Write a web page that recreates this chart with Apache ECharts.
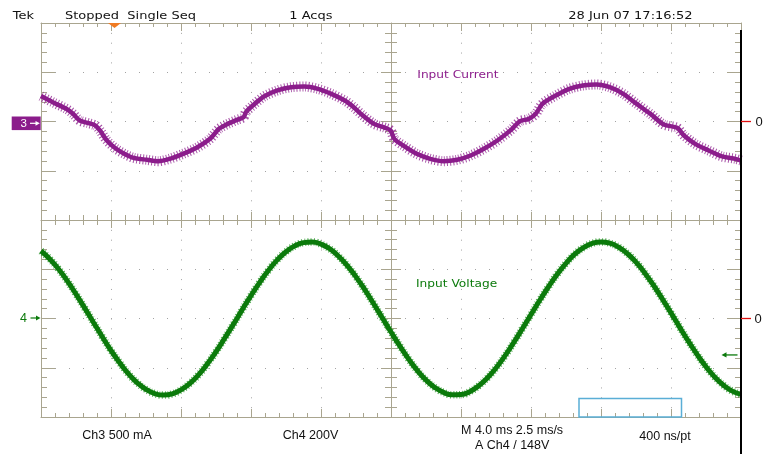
<!DOCTYPE html>
<html>
<head>
<meta charset="utf-8">
<script src="https://cdn.jsdelivr.net/npm/echarts@6/dist/echarts.min.js"></script>
<style>html,body{margin:0;padding:0;background:#fff}#c{width:767px;height:454px}</style>
</head>
<body>
<div id="c"></div>
<script>
// ---- data ----
// Ch3: input current (mA) vs time (ms)
const currentTime = [0,0.67,1.44,1.83,2.21,2.73,3.11,3.37,3.75,4.27,4.78,5.29,6.06,6.7,7.35,8.12,8.89,9.66,10.17,10.68,11.2,11.58,11.71,12.1,12.74,13.51,14.28,15.05,15.82,16.59,17.36,17.87,18.39,19.03,19.67,19.98,20.19,20.7,21.47,22.24,23.01,23.78,24.55,25.31,26.08,26.86,27.37,27.88,28.27,28.65,29.42,30.19,30.96,31.74,32.5,33.27,34.04,34.82,35.58,36.35,36.74,37.38,38.15,38.92,39.69,40];
const currentValues = [258,196,129,78,10,-17,-41,-91,-190,-275,-330,-369,-389,-403,-379,-328,-267,-176,-74,-24,17,44,95,162,254,315,348,355,332,281,213,145,61,-24,-64,-91,-176,-244,-328,-379,-403,-389,-345,-277,-193,-85,3,27,78,179,264,332,365,376,348,281,179,78,-30,-64,-142,-227,-294,-355,-379,-396];
// Ch4: input voltage (V) vs time (ms)
const voltageTime = [0,0.5,1,1.5,2,2.5,3,3.5,4,4.5,5,5.5,6,6.5,7,7.5,8,8.5,9,9.5,10,10.5,11,11.5,12,12.5,13,13.5,14,14.5,15,15.5,16,16.5,17,17.5,18,18.5,19,19.5,20,20.5,21,21.5,22,22.5,23,23.5,24,24.5,25,25.5,26,26.5,27,27.5,28,28.5,29,29.5,30,30.5,31,31.5,32,32.5,33,33.5,34,34.5,35,35.5,36,36.5,37,37.5,38,38.5,39,39.5,40];
const voltageValues = [274,242,201,153,99,42,-16,-74,-130,-180,-225,-261,-288,-305,-311,-306,-290,-264,-229,-185,-135,-80,-23,36,93,147,196,238,271,295,308,311,302,283,253,215,169,117,61,3,-55,-111,-164,-211,-250,-280,-300,-310,-309,-297,-274,-242,-201,-153,-99,-42,16,74,129,180,224,261,288,305,311,306,290,264,229,185,135,80,23,-36,-93,-147,-196,-238,-271,-295,-308];

const headerTexts = ['Tek', 'Stopped  Single Seq', '1 Acqs', '28 Jun 07 17:16:52'];
const footerTexts = ['Ch3 500 mA', 'Ch4 200V', 'M 4.0 ms 2.5 ms/s', 'A Ch4 / 148V', '400 ns/pt'];
const traceLabels = ['Input Current', 'Input Voltage'];
const channelLabels = ['3', '4'];
const zeroLabel = '0';

const timeAxis = {min: 0, max: 40, interval: 4};
const currentAxis = {min: -3000, max: 1000, interval: 500};
const voltageAxis = {min: -400, max: 1200, interval: 200};
const divAxisX = {min: -5, max: 5, interval: 1};
const divAxisY = {min: -4, max: 4, interval: 1};
const triggerLevel = -148;
const triggerTime = 4.2;

// ---- styles ----
const GR = '#a9a58f';
const DOT = '#a3a3a3';
const PURPLE = '#8b1c8b';
const GREEN = '#0b7a0b';

function tick(len, inside) { return {show: true, inside: inside, length: len, lineStyle: {color: GR, width: 1}}; }
function minor(len) { return {show: true, splitNumber: 5, length: len, lineStyle: {color: GR, width: 1}}; }
function line(show) { return {show: show, onZero: false, lineStyle: {color: GR, width: 1}}; }
const noLabel = {show: false};

function zip(a, b) { return a.map((v, i) => [v, b[i]]); }
const currentData = zip(currentTime, currentValues);
const voltageData = zip(voltageTime, voltageValues);

const option = {
  backgroundColor: '#ffffff',
  animation: false,
  grid: {left: 41, top: 23, width: 700, height: 394, containLabel: false, outerBoundsMode: 'none'},
  xAxis: [
    Object.assign({type: 'value', position: 'bottom', axisLine: line(true), axisTick: tick(8, true), minorTick: minor(4), axisLabel: noLabel,
      splitLine: {show: true, lineStyle: {color: DOT, width: 1, type: [1, 8.85]}}}, timeAxis),
    Object.assign({type: 'value', position: 'top', axisLine: line(true), axisTick: tick(8, true), minorTick: minor(4), axisLabel: noLabel, splitLine: {show: false}}, timeAxis),
    Object.assign({type: 'value', position: 'bottom', offset: -197, axisLine: line(true), axisTick: tick(8, false), minorTick: minor(5), axisLabel: noLabel, splitLine: {show: false}}, divAxisX),
    Object.assign({type: 'value', position: 'bottom', offset: -197, axisLine: line(false), axisTick: tick(8, true), minorTick: minor(5), axisLabel: noLabel, splitLine: {show: false}}, divAxisX)
  ],
  yAxis: [
    Object.assign({type: 'value', position: 'left', axisLine: line(true), axisTick: tick(14, true), minorTick: minor(6), axisLabel: noLabel,
      splitLine: {show: true, lineStyle: {color: DOT, width: 1, type: [1, 13]}}}, currentAxis),
    Object.assign({type: 'value', position: 'right', axisLine: line(true), axisTick: tick(14, true), minorTick: minor(6), axisLabel: noLabel, splitLine: {show: false}}, voltageAxis),
    Object.assign({type: 'value', position: 'left', offset: -350, axisLine: line(true), axisTick: tick(10, false), minorTick: minor(6), axisLabel: noLabel, splitLine: {show: false}}, divAxisY),
    Object.assign({type: 'value', position: 'left', offset: -350, axisLine: line(false), axisTick: tick(10, true), minorTick: minor(6), axisLabel: noLabel, splitLine: {show: false}}, divAxisY)
  ],
  series: [
    // fuzzy noise envelope of the acquisition (same data, striped wide stroke)
    {name: traceLabels[0] + ' envelope', type: 'line', xAxisIndex: 0, yAxisIndex: 0, data: currentData, silent: true,
      showSymbol: false, smooth: 0.3, lineStyle: {color: PURPLE, width: 10, type: [1, 2], opacity: 0.75}, z: 4},
    {name: traceLabels[0], type: 'line', xAxisIndex: 0, yAxisIndex: 0, data: currentData,
      showSymbol: false, smooth: 0.3, lineStyle: {color: PURPLE, width: 4.5}, z: 5},
    {name: traceLabels[1] + ' envelope', type: 'line', xAxisIndex: 0, yAxisIndex: 1, data: voltageData, silent: true,
      showSymbol: false, smooth: true, lineStyle: {color: '#2f9a2f', width: 7.5, type: [1, 2], opacity: 0.8}, z: 4},
    {name: traceLabels[1], type: 'line', xAxisIndex: 0, yAxisIndex: 1, data: voltageData,
      showSymbol: false, smooth: true, lineStyle: {color: GREEN, width: 5}, z: 5}
  ]
};

const chart = echarts.init(document.getElementById('c'), null, {renderer: 'canvas'});
chart.setOption(option);

const px = v => chart.convertToPixel({xAxisIndex: 0}, v);
const pyI = v => chart.convertToPixel({yAxisIndex: 0}, v);
const pyV = v => chart.convertToPixel({yAxisIndex: 1}, v);

const xL = px(timeAxis.min), xR = px(timeAxis.max);
const yT = pyI(currentAxis.max), yB = pyI(currentAxis.min);
const y3 = pyI(0), y4 = pyV(0);
const yTrig = pyV(triggerLevel), xTrig = px(triggerTime);

function txt(text, x, y, font, fill, sy) {
  return {type: 'text', x: x, y: y, scaleY: sy || 1, z: 30, silent: true,
    style: {text: text, font: font, fill: fill, textAlign: 'left', textVerticalAlign: 'middle'}};
}
const HF = '13px "DejaVu Sans"';
const FF = '12.5px "Liberation Sans"';

const graphic = [
  // header
  txt(headerTexts[0], 12.7, 15.9, HF, '#111', 0.78),
  txt(headerTexts[1], 65, 15.9, HF, '#111', 0.78),
  txt(headerTexts[2], 289.3, 15.9, HF, '#111', 0.78),
  txt(headerTexts[3], 568.3, 15.9, HF, '#111', 0.78),
  // trace labels
  txt(traceLabels[0], 417.3, 75.7, '12.2px "DejaVu Sans"', PURPLE, 0.82),
  txt(traceLabels[1], 416, 284, '12.2px "DejaVu Sans"', GREEN, 0.82),
  // footer
  txt(footerTexts[0], 82.3, 435.6, FF, '#111'),
  txt(footerTexts[1], 282.7, 435.6, FF, '#111'),
  txt(footerTexts[2], 461, 430.6, FF, '#111'),
  txt(footerTexts[3], 475, 445.6, FF, '#111'),
  txt(footerTexts[4], 639.3, 436.6, FF, '#111'),
  // ch3 marker
  {type: 'rect', z: 30, shape: {x: 11.7, y: y3 - 5, width: 29, height: 13.6}, style: {fill: PURPLE}},
  txt(channelLabels[0], 20.5, y3 + 2, '11.5px "Liberation Sans"', '#ffffff'),
  {type: 'line', z: 31, shape: {x1: 30, y1: y3 + 1.8, x2: 36.5, y2: y3 + 1.8}, style: {stroke: '#ffffff', lineWidth: 1.2}},
  {type: 'polygon', z: 31, shape: {points: [[39.8, y3 + 1.8], [35.5, y3 - 0.6], [35.5, y3 + 4.2]]}, style: {fill: '#ffffff'}},
  // ch4 marker
  txt(channelLabels[1], 20, y4, '12.5px "Liberation Sans"', GREEN),
  {type: 'line', z: 31, shape: {x1: 30.5, y1: y4 - 0.5, x2: 37, y2: y4 - 0.5}, style: {stroke: GREEN, lineWidth: 1.2}},
  {type: 'polygon', z: 31, shape: {points: [[40.5, y4 - 0.5], [36, y4 - 3], [36, y4 + 2]]}, style: {fill: GREEN}},
  // right border (black)
  {type: 'line', z: 32, shape: {x1: xR, y1: 30, x2: xR, y2: 454}, style: {stroke: '#000000', lineWidth: 2}},
  // zero references on the right
  {type: 'line', z: 33, shape: {x1: xR, y1: y3, x2: xR + 10, y2: y3}, style: {stroke: '#e01010', lineWidth: 1.3}},
  {type: 'line', z: 33, shape: {x1: xR, y1: y4, x2: xR + 10, y2: y4}, style: {stroke: '#e01010', lineWidth: 1.3}},
  txt(zeroLabel, 755.5, y3 + 0.5, '13px "Liberation Sans"', '#111'),
  txt(zeroLabel, 754.5, y4 + 0.5, '13px "Liberation Sans"', '#111'),
  // trigger level arrow
  {type: 'line', z: 31, shape: {x1: 737.5, y1: yTrig, x2: 725, y2: yTrig}, style: {stroke: GREEN, lineWidth: 1.3}},
  {type: 'polygon', z: 31, shape: {points: [[721.5, yTrig], [726.5, yTrig - 2.6], [726.5, yTrig + 2.6]]}, style: {fill: GREEN}},
  // trigger time marker
  {type: 'polygon', z: 31, shape: {points: [[xTrig - 6.5, yT], [xTrig + 6.5, yT], [xTrig, yT + 5]]}, style: {fill: '#f07a22'}},
  // record view box
  {type: 'rect', z: 31, shape: {x: 579, y: 398.5, width: 102.5, height: yB - 398.5}, style: {fill: 'none', stroke: '#5aaed6', lineWidth: 1.5}}
];

chart.setOption({graphic: graphic});
</script>
</body>
</html>
